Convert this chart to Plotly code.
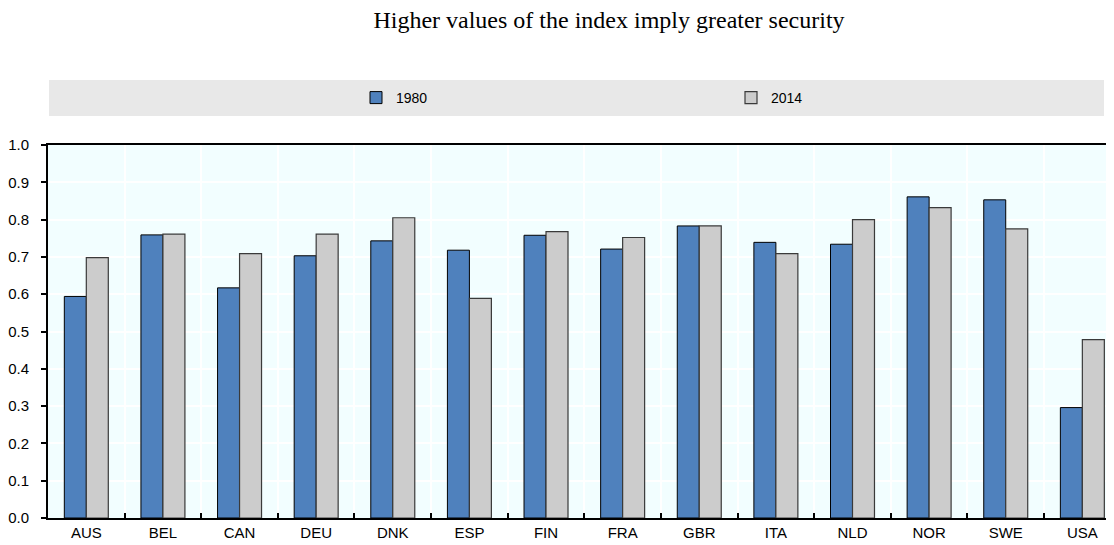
import plotly.graph_objects as go

countries = ["AUS", "BEL", "CAN", "DEU", "DNK", "ESP", "FIN", "FRA", "GBR", "ITA", "NLD", "NOR", "SWE", "USA"]
v1980 = [0.594, 0.759, 0.617, 0.703, 0.743, 0.718, 0.758, 0.721, 0.783, 0.739, 0.734, 0.861, 0.853, 0.296]
v2014 = [0.698, 0.761, 0.709, 0.761, 0.805, 0.589, 0.768, 0.752, 0.783, 0.709, 0.800, 0.832, 0.775, 0.478]
yticks = [0.0, 0.1, 0.2, 0.3, 0.4, 0.5, 0.6, 0.7, 0.8, 0.9, 1.0]
title_text = "Higher values of the index imply greater security"

# page body has an 8px margin; figure is sized to fill the rest of the window
OFF = 8
W, H = 1114 - OFF, 545 - OFF
L, R, T, B = 48 - OFF, 1, 145 - OFF, 27

fig = go.Figure()
fig.add_trace(go.Bar(name="1980", x=countries, y=v1980, legend="legend",
                     marker=dict(color="#4F81BD", line=dict(color="#000000", width=1))))
fig.add_trace(go.Bar(name="2014", x=countries, y=v2014, legend="legend2",
                     marker=dict(color="#CCCCCC", line=dict(color="#3A3A3A", width=1.2))))

ph = H - T - B
pw = W - L - R
legend_common = dict(orientation="h", xref="container", xanchor="left",
                     yref="container", y=1 - (98 - OFF) / H, yanchor="middle",
                     bgcolor="rgba(0,0,0,0)", font=dict(size=14))
fig.update_layout(
    width=W, height=H,
    margin=dict(l=L, r=R, t=T, b=B, pad=0, autoexpand=False),
    paper_bgcolor="white",
    plot_bgcolor="#F2FEFF",
    barmode="group",
    bargap=0.426,
    bargroupgap=0,
    font=dict(family="Arial, Liberation Sans, sans-serif", size=15, color="black"),
    title=dict(text=title_text, xref="container", x=(609 - OFF) / W, xanchor="center",
               yref="container", y=1 - (20 - OFF) / H, yanchor="middle",
               font=dict(family="Times New Roman, Liberation Serif, serif", size=24, color="black")),
    legend=dict(x=(356 - OFF) / W, **legend_common),
    legend2=dict(x=(731 - OFF) / W, **legend_common),
    shapes=[dict(type="rect", xref="paper", yref="paper", layer="below",
                 x0=(49 - 48) / pw, x1=(1104 - 48) / pw,
                 y0=(518 - 116) / ph, y1=(518 - 80) / ph,
                 fillcolor="#E8E8E8", line=dict(width=0))],
    showlegend=True,
)

fig.update_xaxes(type="category", tickson="boundaries", ticks="inside", ticklen=5,
                 tickcolor="black", tickwidth=1.5, tickangle=0,
                 showgrid=True, gridcolor="white", gridwidth=1.5,
                 showline=True, linecolor="black", linewidth=2, mirror=True,
                 range=[-0.5, 13.4], tickfont=dict(size=15))
fig.update_yaxes(range=[0, 1], tickvals=yticks, tickformat=".1f",
                 ticks="outside", ticklen=5, tickcolor="black", tickwidth=1.5,
                 ticklabelstandoff=9,
                 showgrid=True, gridcolor="white", gridwidth=1.5, zeroline=False,
                 showline=True, linecolor="black", linewidth=2,
                 tickfont=dict(size=15))

fig.write_html("out.html")
